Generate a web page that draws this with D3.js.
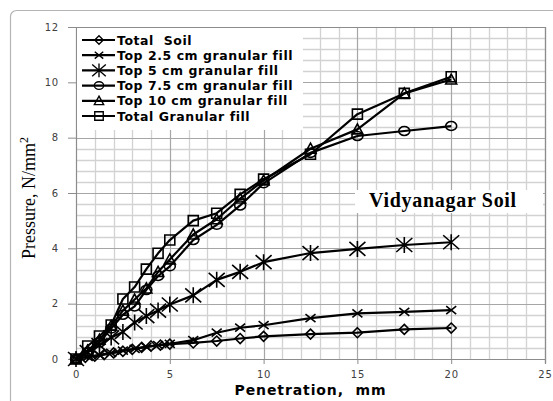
<!DOCTYPE html>
<html>
<head>
<meta charset="utf-8">
<script src="https://cdn.jsdelivr.net/npm/d3@7"></script>
<style>
  html, body { margin: 0; padding: 0; background: #fff; }
  svg { display: block; }
</style>
</head>
<body>
<svg id="chart" width="553" height="401"></svg>
<script>
// Penetration readings (mm)
const soilX = [0, 0.5, 1, 1.5, 2, 2.5, 3, 3.5, 4, 4.5, 5, 6.25, 7.5, 8.75, 10, 12.5, 15, 17.5, 20];
const fillX = [0, 0.625, 1.25, 1.875, 2.5, 3.125, 3.75, 4.375, 5, 6.25, 7.5, 8.75, 10, 12.5, 15, 17.5, 20];

// Pressure readings (N/mm²)
const totalSoil   = [0, 0.06, 0.1, 0.16, 0.22, 0.28, 0.35, 0.42, 0.47, 0.5, 0.54, 0.58, 0.65, 0.74, 0.82, 0.9, 0.95, 1.07, 1.12];
const top25Fill   = [0, 0.08, 0.15, 0.22, 0.3, 0.37, 0.43, 0.5, 0.55, 0.68, 0.95, 1.13, 1.22, 1.48, 1.65, 1.7, 1.77];
const top5Fill    = [0, 0.25, 0.5, 0.78, 0.98, 1.32, 1.55, 1.75, 1.97, 2.3, 2.86, 3.15, 3.5, 3.83, 3.98, 4.12, 4.22];
const top75Fill   = [0, 0.25, 0.6, 1.1, 1.6, 1.9, 2.5, 3.0, 3.35, 4.3, 4.85, 5.55, 6.35, 7.45, 8.06, 8.24, 8.42];
const top10Fill   = [0, 0.3, 0.7, 1.2, 1.75, 2.15, 2.55, 3.15, 3.6, 4.5, 5.05, 5.8, 6.45, 7.6, 8.3, 9.6, 10.1];
const totalFill   = [0, 0.47, 0.83, 1.23, 2.17, 2.6, 3.25, 3.82, 4.3, 5.0, 5.27, 5.95, 6.5, 7.4, 8.85, 9.6, 10.2];

const seriesNames = ["Total  Soil", "Top 2.5 cm granular fill", "Top 5 cm granular fill",
                     "Top 7.5 cm granular fill", "Top 10 cm granular fill", "Total Granular fill"];
const xTicks = [0, 5, 10, 15, 20, 25];
const yTicks = [0, 2, 4, 6, 8, 10, 12];

const series = [
  { name: seriesNames[0], xs: soilX, ys: totalSoil, marker: "diamond" },
  { name: seriesNames[1], xs: fillX, ys: top25Fill, marker: "cross" },
  { name: seriesNames[2], xs: fillX, ys: top5Fill,  marker: "star" },
  { name: seriesNames[3], xs: fillX, ys: top75Fill, marker: "circle" },
  { name: seriesNames[4], xs: fillX, ys: top10Fill, marker: "triangle" },
  { name: seriesNames[5], xs: fillX, ys: totalFill, marker: "square" }
];

// Marker outlines, centred on the origin
function markerPath(kind) {
  switch (kind) {
    case "diamond":  return "M0,-5L5,0L0,5L-5,0Z";
    case "cross":    return "M-5,-4L5,4M-5,4L5,-4";
    case "star":     return "M-8,-7L8,7M-8,7L8,-7M0,-8L0,8";
    case "circle":   return "M-5.5,0A5.5,4.5 0 1,0 5.5,0A5.5,4.5 0 1,0 -5.5,0Z";
    case "triangle": return "M0,-5.5L5.5,4.5L-5.5,4.5Z";
    case "square":   return "M-5,-5H5V5H-5Z";
  }
}

const svg = d3.select("#chart");
const plot = { left: 76, top: 27, right: 545, bottom: 359 };

// Outer chart frame
svg.append("rect")
  .attr("x", 10.5).attr("y", 10.5)
  .attr("width", 640).attr("height", 500)
  .attr("rx", 6)
  .attr("fill", "#fff")
  .attr("stroke", "#b5b5b5")
  .attr("stroke-width", 1.2);

const x = d3.scaleLinear().domain([0, 25]).range([plot.left, plot.right]);
const y = d3.scaleLinear().domain([0, 12]).range([plot.bottom, plot.top]);

// Minor grid
const grid = svg.append("g");
grid.selectAll(".vminor")
  .data(d3.range(1, 25).filter(v => v % 5 !== 0))
  .join("line")
  .attr("x1", d => Math.round(x(d)) + 0.5).attr("x2", d => Math.round(x(d)) + 0.5)
  .attr("y1", plot.top).attr("y2", plot.bottom)
  .attr("stroke", "#d2d2d2").attr("stroke-width", 1.3);
grid.selectAll(".hminor")
  .data(d3.range(1, 30).map(i => i * 0.4).filter(v => Math.abs(v / 2 - Math.round(v / 2)) > 1e-6))
  .join("line")
  .attr("y1", d => Math.round(y(d)) + 0.5).attr("y2", d => Math.round(y(d)) + 0.5)
  .attr("x1", plot.left).attr("x2", plot.right)
  .attr("stroke", "#d2d2d2").attr("stroke-width", 1.3);
// Major grid
grid.selectAll(".vmajor")
  .data(xTicks.slice(1))
  .join("line")
  .attr("x1", d => Math.round(x(d)) + 0.5).attr("x2", d => Math.round(x(d)) + 0.5)
  .attr("y1", plot.top).attr("y2", plot.bottom)
  .attr("stroke", "#a6a6a6").attr("stroke-width", 1.2);
grid.selectAll(".hmajor")
  .data(yTicks.slice(1))
  .join("line")
  .attr("y1", d => Math.round(y(d)) + 0.5).attr("y2", d => Math.round(y(d)) + 0.5)
  .attr("x1", plot.left).attr("x2", plot.right)
  .attr("stroke", "#a6a6a6").attr("stroke-width", 1.2);

// Axes
const xAxis = svg.append("g")
  .attr("transform", `translate(0,${plot.bottom})`)
  .call(d3.axisBottom(x).tickValues(xTicks).tickSize(5).tickPadding(7).tickFormat(d3.format("d")));
const yAxis = svg.append("g")
  .attr("transform", `translate(${plot.left},0)`)
  .call(d3.axisLeft(y).tickValues(yTicks).tickSize(8).tickPadding(9).tickFormat(d3.format("d")));
[xAxis, yAxis].forEach(a => {
  a.select(".domain").attr("stroke", "#8c8c8c").attr("stroke-width", 1.2);
  a.selectAll(".tick line").attr("stroke", "#8c8c8c");
  a.selectAll("text")
    .attr("font-family", "'DejaVu Sans', Verdana, sans-serif")
    .attr("font-size", 10)
    .attr("letter-spacing", 0.8)
    .attr("fill", "#404040");
});

// Plot area border (right/top)
svg.append("path")
  .attr("d", `M${plot.left},${plot.top + 0.5}H${plot.right + 0.5}V${plot.bottom + 4}`)
  .attr("fill", "none").attr("stroke", "#8c8c8c").attr("stroke-width", 1.2);

// Series
const line = d3.line().x(d => x(d[0])).y(d => y(d[1]));
const marks = svg.append("g");
series.forEach(s => {
  const pts = s.xs.map((v, i) => [v, s.ys[i]]);
  const g = marks.append("g");
  g.append("path")
    .attr("d", line(pts))
    .attr("fill", "none").attr("stroke", "#000").attr("stroke-width", 2.2)
    .attr("stroke-linejoin", "round");
  g.selectAll("path.m")
    .data(pts)
    .join("path")
    .attr("class", "m")
    .attr("transform", d => `translate(${x(d[0])},${y(d[1])})`)
    .attr("d", markerPath(s.marker))
    .attr("fill", "none").attr("stroke", "#000").attr("stroke-width", 1.6);
});

// Legend
const legend = svg.append("g");
legend.append("rect")
  .attr("x", plot.left + 1).attr("y", plot.top + 1)
  .attr("width", 226).attr("height", 102)
  .attr("fill", "#fff");
series.forEach((s, i) => {
  const cy = 40 + i * 15.2;
  legend.append("line")
    .attr("x1", 82).attr("x2", 115).attr("y1", cy).attr("y2", cy)
    .attr("stroke", "#000").attr("stroke-width", 2.2);
  legend.append("path")
    .attr("transform", `translate(99,${cy}) scale(0.85)`)
    .attr("d", markerPath(s.marker))
    .attr("fill", "none").attr("stroke", "#000").attr("stroke-width", 1.6);
  legend.append("text")
    .attr("x", 117).attr("y", cy + 4.5)
    .attr("font-family", "'DejaVu Sans', Verdana, sans-serif")
    .attr("font-weight", "bold")
    .attr("font-size", 12.5)
    .attr("letter-spacing", 0.55)
    .style("white-space", "pre")
    .attr("fill", "#000")
    .text(s.name);
});

// Site label
svg.append("rect")
  .attr("x", 355).attr("y", 190).attr("width", 188).attr("height", 23)
  .attr("fill", "#fff");
svg.append("text")
  .attr("x", 443).attr("y", 207)
  .attr("text-anchor", "middle")
  .attr("font-family", "'Liberation Serif', 'Times New Roman', serif")
  .attr("font-weight", "bold")
  .attr("font-size", 20)
  .attr("letter-spacing", 0.7)
  .attr("fill", "#000")
  .text("Vidyanagar Soil");

// Axis titles
svg.append("text")
  .attr("x", (plot.left + plot.right) / 2).attr("y", 395)
  .attr("text-anchor", "middle")
  .attr("font-family", "'DejaVu Sans', Verdana, sans-serif")
  .attr("font-weight", "bold")
  .attr("font-size", 14)
  .attr("letter-spacing", 0.9)
  .style("white-space", "pre")
  .attr("fill", "#000")
  .text("Penetration,  mm");

const yTitle = svg.append("text")
  .attr("transform", "translate(35,198) rotate(-90)")
  .attr("text-anchor", "middle")
  .attr("font-family", "'Liberation Serif', 'Times New Roman', serif")
  .attr("font-size", 18)
  .attr("fill", "#000");
yTitle.append("tspan").text("Pressure, N/mm");
yTitle.append("tspan").attr("dy", -7).attr("font-size", 12).text("2");
</script>
</body>
</html>
